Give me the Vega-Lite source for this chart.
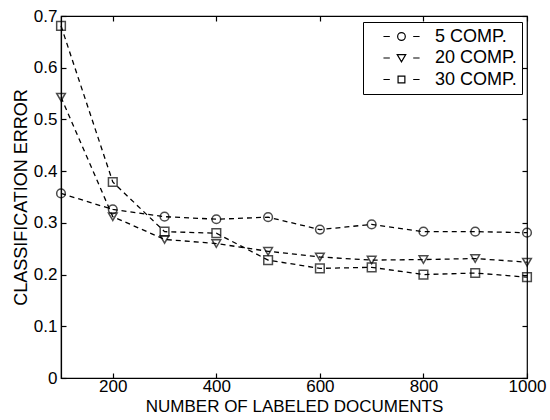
{
  "$schema": "https://vega.github.io/schema/vega-lite/v6.json",
  "width": 466,
  "height": 362,
  "autosize": {"type": "none"},
  "padding": {"left": 61, "top": 16, "right": 23, "bottom": 42},
  "background": "white",
  "config": {
    "view": {"stroke": "black", "strokeWidth": 1.2},
    "font": "Liberation Sans",
    "axis": {
      "domainColor": "black",
      "domainWidth": 1.2,
      "tickColor": "black",
      "labelColor": "black",
      "titleColor": "black",
      "grid": false,
      "labelFontSize": 17,
      "titleFontSize": 18,
      "titleFontWeight": "normal",
      "labelFont": "Liberation Sans",
      "titleFont": "Liberation Sans",
      "tickSize": -5,
      "tickWidth": 1.2,
      "labelFlush": false,
      "labelOverlap": false
    }
  },
  "data": {
    "values": [
      {"n": 100, "err": 0.357, "series": "5 COMP."},
      {"n": 200, "err": 0.326, "series": "5 COMP."},
      {"n": 300, "err": 0.312, "series": "5 COMP."},
      {"n": 400, "err": 0.307, "series": "5 COMP."},
      {"n": 500, "err": 0.311, "series": "5 COMP."},
      {"n": 600, "err": 0.287, "series": "5 COMP."},
      {"n": 700, "err": 0.297, "series": "5 COMP."},
      {"n": 800, "err": 0.283, "series": "5 COMP."},
      {"n": 900, "err": 0.283, "series": "5 COMP."},
      {"n": 1000, "err": 0.281, "series": "5 COMP."},
      {"n": 100, "err": 0.543, "series": "20 COMP."},
      {"n": 200, "err": 0.312, "series": "20 COMP."},
      {"n": 300, "err": 0.268, "series": "20 COMP."},
      {"n": 400, "err": 0.26, "series": "20 COMP."},
      {"n": 500, "err": 0.245, "series": "20 COMP."},
      {"n": 600, "err": 0.234, "series": "20 COMP."},
      {"n": 700, "err": 0.228, "series": "20 COMP."},
      {"n": 800, "err": 0.229, "series": "20 COMP."},
      {"n": 900, "err": 0.231, "series": "20 COMP."},
      {"n": 1000, "err": 0.224, "series": "20 COMP."},
      {"n": 100, "err": 0.681, "series": "30 COMP."},
      {"n": 200, "err": 0.379, "series": "30 COMP."},
      {"n": 300, "err": 0.283, "series": "30 COMP."},
      {"n": 400, "err": 0.28, "series": "30 COMP."},
      {"n": 500, "err": 0.228, "series": "30 COMP."},
      {"n": 600, "err": 0.212, "series": "30 COMP."},
      {"n": 700, "err": 0.214, "series": "30 COMP."},
      {"n": 800, "err": 0.2, "series": "30 COMP."},
      {"n": 900, "err": 0.203, "series": "30 COMP."},
      {"n": 1000, "err": 0.195, "series": "30 COMP."}
    ]
  },
  "layer": [
    {
      "mark": {"type": "line", "color": "black", "strokeWidth": 1.3, "strokeDash": [5, 4]},
      "encoding": {
        "x": {
          "field": "n", "type": "quantitative",
          "scale": {"domain": [100, 1000], "nice": false, "zero": false},
          "axis": {"orient": "bottom", "values": [200, 400, 600, 800, 1000], "format": "d", "title": "NUMBER OF LABELED DOCUMENTS", "titleFontSize": 17, "labelPadding": 5, "titlePadding": 4}
        },
        "y": {
          "field": "err", "type": "quantitative",
          "scale": {"domain": [0, 0.7], "nice": false},
          "axis": {"orient": "left", "values": [0, 0.1, 0.2, 0.3, 0.4, 0.5, 0.6, 0.7], "format": "~g", "title": "CLASSIFICATION ERROR", "labelPadding": 9, "titlePadding": 3}
        },
        "detail": {"field": "series"}
      }
    },
    {
      "mark": {"type": "point", "filled": false, "color": "black", "strokeWidth": 1.5, "size": 75},
      "encoding": {
        "x": {
          "field": "n", "type": "quantitative",
          "axis": {"orient": "top", "values": [200, 400, 600, 800, 1000], "labels": false, "title": null, "domain": false}
        },
        "y": {
          "field": "err", "type": "quantitative",
          "axis": {"orient": "right", "values": [0, 0.1, 0.2, 0.3, 0.4, 0.5, 0.6, 0.7], "labels": false, "title": null, "domain": false}
        },
        "shape": {
          "field": "series", "type": "nominal",
          "scale": {"domain": ["5 COMP.", "20 COMP.", "30 COMP."], "range": ["circle", "triangle-down", "square"]},
          "legend": null
        }
      }
    },
    {
      "transform": [{"filter": "false"}],
      "mark": {"type": "point", "filled": false, "color": "black", "strokeWidth": 1.2},
      "encoding": {
        "x": {"field": "n", "type": "quantitative", "axis": null},
        "y": {"field": "err", "type": "quantitative", "axis": null},
        "shape": {
          "field": "series", "type": "nominal",
          "scale": {
            "domain": ["5 COMP.", "20 COMP.", "30 COMP."],
            "range": [
              "M0.7,0H1.45M4.2,0H4.95M2.37,0A0.45,0.45 0 1,1 3.27,0A0.45,0.45 0 1,1 2.37,0Z",
              "M0.7,0H1.45M4.2,0H4.95M2.32,-0.4L3.32,-0.4L2.82,0.45Z",
              "M0.7,0H1.45M4.2,0H4.95M2.42,-0.4H3.22V0.4H2.42Z"
            ]
          },
          "legend": {
            "orient": "none",
            "legendX": 302,
            "legendY": 6,
            "title": null,
            "strokeColor": "black",
            "fillColor": "white",
            "padding": 5,
            "symbolSize": 289,
            "labelOffset": 48,
            "symbolStrokeColor": "black",
            "symbolFillColor": "black",
            "symbolStrokeWidth": 1.2,
            "symbolOpacity": 1,
            "rowPadding": 2.5,
            "labelFontSize": 18,
            "labelFont": "Liberation Sans",
            "labelColor": "black",
            "labelBaseline": "middle"
          }
        }
      }
    }
  ],
  "resolve": {
    "scale": {"shape": "independent"},
    "axis": {"x": "independent", "y": "independent"}
  }
}
